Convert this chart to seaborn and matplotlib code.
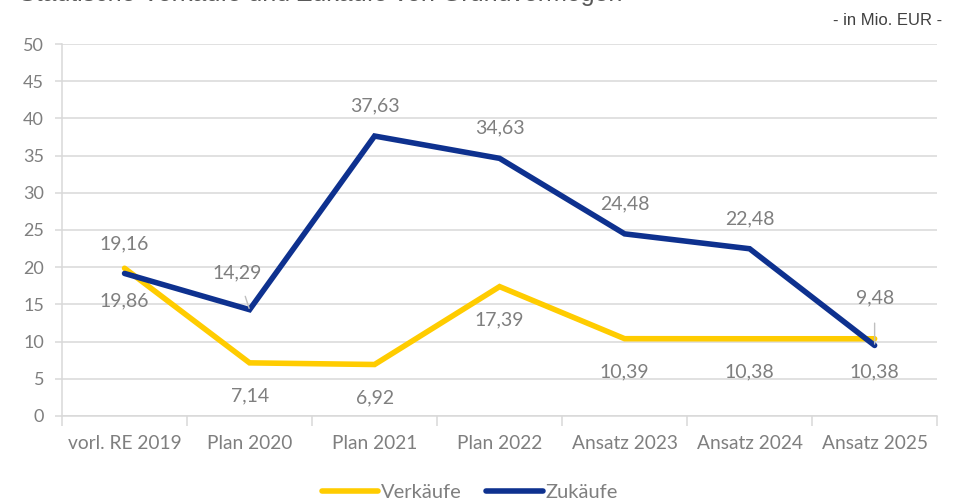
import matplotlib
matplotlib.use("Agg")
import matplotlib.pyplot as plt
import seaborn as sns
import pandas as pd
from matplotlib.lines import Line2D

# Data (in Mio. EUR)
categories = ["vorl. RE 2019", "Plan 2020", "Plan 2021", "Plan 2022",
              "Ansatz 2023", "Ansatz 2024", "Ansatz 2025"]
verkaeufe = [19.86, 7.14, 6.92, 17.39, 10.39, 10.38, 10.38]
zukaeufe = [19.16, 14.29, 37.63, 34.63, 24.48, 22.48, 9.48]

series_names = ["Verkäufe", "Zukäufe"]
colors = {"Verkäufe": "#FFCC00", "Zukäufe": "#0E318F"}

df = pd.DataFrame({
    "Jahr": categories * 2,
    "pos": list(range(len(categories))) * 2,
    "Wert": verkaeufe + zukaeufe,
    "Serie": [series_names[0]] * len(categories) + [series_names[1]] * len(categories),
})

sns.set_style("white")
plt.rcParams["font.family"] = ["Lato", "DejaVu Sans"]
text_grey = "#7F7F7F"
grid_grey = "#D9D9D9"

fig = plt.figure(figsize=(9.59, 5.03), dpi=100)
ax = fig.add_axes([0.0647, 0.173, 0.9125, 0.7395])

# Draw lines
sns.lineplot(data=df, x="pos", y="Wert", hue="Serie", palette=colors,
             linewidth=4, ax=ax, legend=False, sort=False,
             solid_capstyle="round", solid_joinstyle="miter")

# Axes styling
ax.set_xlim(-0.5, len(categories) - 0.5)
ax.set_ylim(0, 50)
ax.set_yticks(range(0, 51, 5))
ax.set_xticks(range(len(categories)))
ax.set_xticklabels(categories)
ax.set_xticks([i - 0.5 for i in range(len(categories) + 1)], minor=True)
ax.set_xlabel("")
ax.set_ylabel("")
ax.yaxis.grid(True, color=grid_grey, linewidth=1.1)
ax.set_axisbelow(True)
for side in ["top", "right"]:
    ax.spines[side].set_visible(False)
for side in ["left", "bottom"]:
    ax.spines[side].set_color(grid_grey)
    ax.spines[side].set_linewidth(1.1)
ax.tick_params(axis="y", which="major", length=5, color=grid_grey, width=1.1,
               labelsize=13, labelcolor=text_grey, pad=8, left=True)
ax.tick_params(axis="x", which="major", length=0, labelsize=13.8,
               labelcolor=text_grey, pad=14)
ax.tick_params(axis="x", which="minor", length=7, color=grid_grey, width=1.1, bottom=True)

# Data labels
def fmt(v):
    return f"{v:.2f}".replace(".", ",")

lab_size = 14
for i, v in enumerate(zukaeufe):
    if i == 1:
        ax.annotate(fmt(v), (i, v), xytext=(-12, 37), textcoords="offset pixels",
                    ha="center", va="center", fontsize=lab_size, color=text_grey,
                    arrowprops=dict(arrowstyle="-", color="#BFBFBF", lw=1,
                                    shrinkA=9, shrinkB=1))
    elif i == 6:
        ax.annotate(fmt(v), (i, v), xytext=(0, 48), textcoords="offset pixels",
                    ha="center", va="center", fontsize=lab_size, color=text_grey,
                    arrowprops=dict(arrowstyle="-", color="#BFBFBF", lw=1,
                                    shrinkA=10, shrinkB=1))
    else:
        ax.annotate(fmt(v), (i, v), xytext=(0, 30), textcoords="offset pixels",
                    ha="center", va="center", fontsize=lab_size, color=text_grey)

for i, v in enumerate(verkaeufe):
    ax.annotate(fmt(v), (i, v), xytext=(0, -33), textcoords="offset pixels",
                ha="center", va="center", fontsize=lab_size, color=text_grey)

# Legend
handles = [Line2D([0], [0], color=colors[n], linewidth=4, solid_capstyle="round")
           for n in series_names]
fig.legend(handles, series_names, loc="center", bbox_to_anchor=(0.49, 0.02),
           ncol=2, frameon=False, fontsize=14.5, labelcolor=text_grey,
           handlelength=2.8, handletextpad=0.15, columnspacing=1.2)

# Unit and (cut-off) title
fig.text(0.982, 0.96, "- in Mio. EUR -", ha="right", va="center",
         fontsize=12, color="#404040", family=["Liberation Sans", "DejaVu Sans"])
fig.text(0.02, 1 - 1 / 503, "Städtische Verkäufe und Zukäufe von Grundvermögen",
         ha="left", va="baseline", fontsize=18, color="#595959",
         family=["Liberation Sans", "DejaVu Sans"])

fig.savefig("out.png", dpi=100)
